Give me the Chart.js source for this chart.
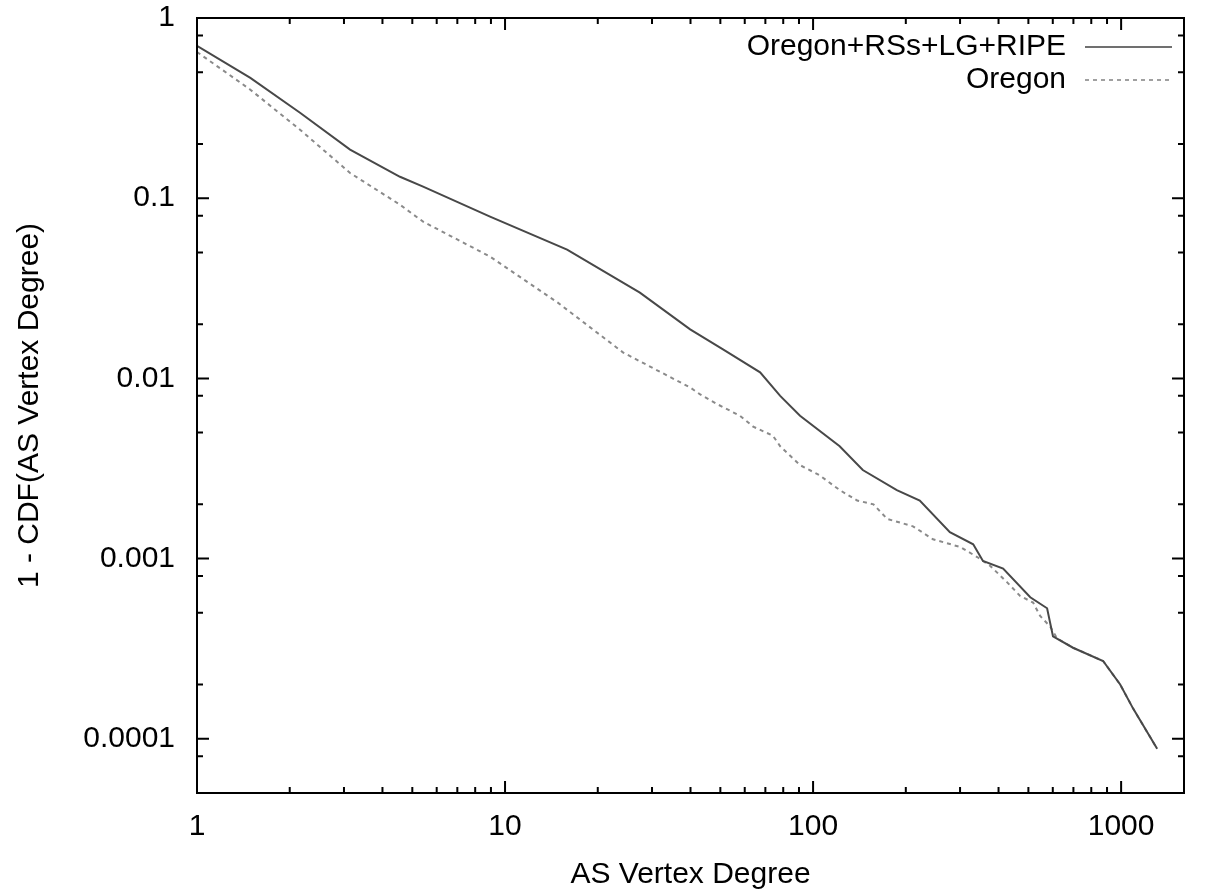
<!DOCTYPE html>
<html>
<head>
<meta charset="utf-8">
<script src="https://cdn.jsdelivr.net/npm/chart.js@4"></script>
<style>
  body { margin: 0; background: #fff; }
  #wrap { width: 1212px; height: 893px; }
</style>
</head>
<body>
<div id="wrap"><canvas id="cdfChart"></canvas></div>
<script>
// AS vertex degree vs 1 - CDF
const fullDegree = [1, 1.49, 2.16, 3.14, 4.56, 5.42, 8.94, 15.9, 27.4, 39.9, 51, 67.3, 78.2, 90.7, 122, 145, 187, 222, 278, 331, 356, 414, 507, 575, 601, 698, 874, 993, 1094, 1309];
const fullCcdf = [0.70, 0.465, 0.298, 0.186, 0.1315, 0.116, 0.079, 0.0518, 0.0299, 0.0187, 0.0145, 0.0108, 0.0080, 0.0062, 0.0042, 0.0031, 0.0024, 0.0021, 0.0014, 0.0012, 0.00097, 0.00088, 0.00061, 0.00053, 0.00037, 0.00032, 0.00027, 0.00020, 0.000147, 0.000088];

const oregonDegree = [1, 1.49, 2.16, 3.14, 4.56, 5.42, 8.94, 14.8, 24.2, 39.9, 43, 48.8, 57.9, 63.9, 74.1, 78.2, 90.7, 105, 122, 139, 157, 174, 211, 245, 300, 341, 376, 426, 470, 518, 546, 588, 620, 698, 874, 993, 1094, 1309];
const oregonCcdf = [0.648, 0.40, 0.24, 0.138, 0.092, 0.0741, 0.0474, 0.0264, 0.0139, 0.0089, 0.00815, 0.0072, 0.0062, 0.0054, 0.0048, 0.0042, 0.0033, 0.0029, 0.0024, 0.0021, 0.0020, 0.00166, 0.00151, 0.00128, 0.00116, 0.00102, 0.00091, 0.00074, 0.00062, 0.00057, 0.00048, 0.00042, 0.00036, 0.00032, 0.00027, 0.00020, 0.000147, 0.000088];

const xMajorTicks = [1, 10, 100, 1000];
const yMajorTicks = [1, 0.1, 0.01, 0.001, 0.0001];
const xMinorSteps = [2, 3, 4, 5, 6, 7, 8, 9];
const yMinorSteps = [2, 5, 8];

const X_MIN = 1, X_MAX = 1600;
const Y_MIN = 0.00005, Y_MAX = 1;

const FONT = '"Liberation Sans", Arial, sans-serif';

function toPoints(xs, ys) {
  return xs.map((x, i) => ({ x: x, y: ys[i] }));
}

// gnuplot-ish frame: box border, ticks pointing inwards on all four sides, legend top right
const gnuplotFrame = {
  id: 'gnuplotFrame',
  afterDraw(chart) {
    const { ctx, chartArea: a, scales } = chart;
    const x = scales.x, y = scales.y;
    ctx.save();
    ctx.strokeStyle = '#000';
    ctx.lineWidth = 2;
    ctx.beginPath();

    const tickX = (v, len) => {
      const px = x.getPixelForValue(v);
      ctx.moveTo(px, a.bottom); ctx.lineTo(px, a.bottom - len);
      ctx.moveTo(px, a.top); ctx.lineTo(px, a.top + len);
    };
    const tickY = (v, len) => {
      const py = y.getPixelForValue(v);
      ctx.moveTo(a.left, py); ctx.lineTo(a.left + len, py);
      ctx.moveTo(a.right, py); ctx.lineTo(a.right - len, py);
    };

    xMajorTicks.forEach(d => {
      tickX(d, 12);
      xMinorSteps.forEach(m => {
        const v = d * m;
        if (v < X_MAX * 0.999) tickX(v, 6);
      });
    });
    yMajorTicks.forEach(d => {
      tickY(d, 12);
      yMinorSteps.forEach(m => {
        const v = d * m / 10;
        if (v > Y_MIN * 1.001 && v < Y_MAX) tickY(v, 6);
      });
    });
    ctx.stroke();
    ctx.strokeRect(a.left, a.top, a.right - a.left, a.bottom - a.top);

    // legend
    ctx.font = '30px ' + FONT;
    ctx.textAlign = 'right';
    ctx.textBaseline = 'middle';
    ctx.fillStyle = '#000';
    chart.data.datasets.forEach((ds, i) => {
      const ly = a.top + 29 + i * 33;
      ctx.fillText(ds.label, a.right - 118, ly);
      ctx.beginPath();
      ctx.strokeStyle = ds.legendColor;
      ctx.lineWidth = 2;
      ctx.setLineDash(ds.borderDash || []);
      ctx.moveTo(a.right - 99, ly);
      ctx.lineTo(a.right - 12, ly);
      ctx.stroke();
      ctx.setLineDash([]);
    });
    ctx.restore();
  }
};

const ctx = document.getElementById('cdfChart').getContext('2d');
new Chart(ctx, {
  type: 'line',
  data: {
    datasets: [
      {
        label: 'Oregon+RSs+LG+RIPE',
        data: toPoints(fullDegree, fullCcdf),
        borderColor: '#484848',
        legendColor: '#707070',
        borderWidth: 2,
        pointRadius: 0,
        tension: 0
      },
      {
        label: 'Oregon',
        data: toPoints(oregonDegree, oregonCcdf),
        borderColor: '#8a8a8a',
        legendColor: '#a0a0a0',
        borderWidth: 2,
        borderDash: [4, 4],
        pointRadius: 0,
        tension: 0
      }
    ]
  },
  options: {
    responsive: true,
    maintainAspectRatio: false,
    animation: false,
    layout: { padding: { top: 18, right: 28, left: 0, bottom: 0 } },
    plugins: {
      legend: { display: false },
      tooltip: { enabled: false }
    },
    scales: {
      x: {
        type: 'logarithmic',
        position: 'bottom',
        min: X_MIN,
        max: X_MAX,
        afterBuildTicks: scale => { scale.ticks = xMajorTicks.map(v => ({ value: v })); },
        afterFit: scale => { scale.height = 100; },
        grid: { display: false, drawTicks: false },
        border: { display: false },
        ticks: {
          autoSkip: false,
          maxRotation: 0,
          padding: 19,
          color: '#000',
          font: { family: FONT, size: 30, lineHeight: 1 },
          callback: v => String(v)
        },
        title: {
          display: true,
          text: 'AS Vertex Degree',
          color: '#000',
          padding: { top: 0, bottom: 0 },
          font: { family: FONT, size: 30 }
        }
      },
      y: {
        type: 'logarithmic',
        position: 'left',
        min: Y_MIN,
        max: Y_MAX,
        afterBuildTicks: scale => { scale.ticks = yMajorTicks.map(v => ({ value: v })); },
        afterFit: scale => {
          scale.width = 197;
          scale.paddingTop = 0;
          scale.paddingBottom = 0;
        },
        grid: { display: false, drawTicks: false },
        border: { display: false },
        ticks: {
          autoSkip: false,
          padding: 22,
          color: '#000',
          font: { family: FONT, size: 30, lineHeight: 1 },
          callback: v => String(v)
        },
        title: {
          display: true,
          text: '1 - CDF(AS Vertex Degree)',
          color: '#000',
          padding: { top: 12, bottom: 0 },
          font: { family: FONT, size: 30 }
        }
      }
    }
  },
  plugins: [gnuplotFrame]
});
</script>
</body>
</html>
